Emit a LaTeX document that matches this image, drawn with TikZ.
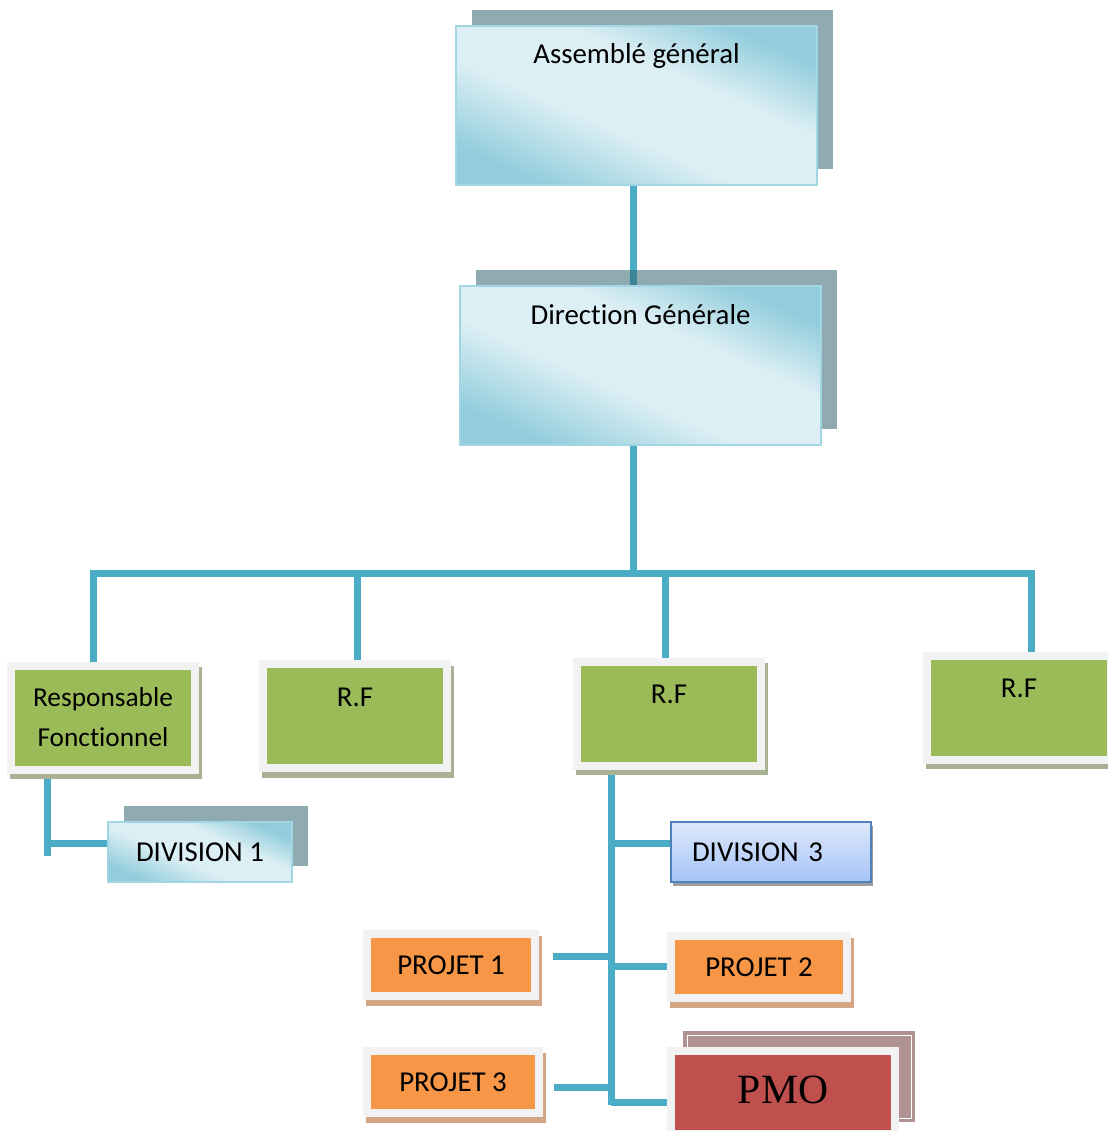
\documentclass[tikz,border=0pt]{standalone}
\usepackage{fontspec}
\setmainfont{Carlito}[Ligatures=NoCommon]
\newfontfamily\pmofont{Liberation Serif}
\usetikzlibrary{shadows,backgrounds}

\definecolor{linkblue}{HTML}{4BACC6}
\definecolor{aquadark}{HTML}{93CDDD}
\definecolor{aqualight}{HTML}{DCEFF4}
\definecolor{aqualine}{HTML}{A3D6E3}
\definecolor{aquashadow}{HTML}{336471}
\definecolor{framegray}{HTML}{F2F2F2}
\definecolor{rfgreen}{HTML}{9BBB59}
\definecolor{gshadow}{HTML}{A8B194}
\definecolor{porange}{HTML}{F79646}
\definecolor{oshadow}{HTML}{D4A685}
\definecolor{pmored}{HTML}{C0504D}
\definecolor{pmoshadow}{HTML}{B09292}
\definecolor{divtop}{HTML}{DDE8FB}
\definecolor{divbottom}{HTML}{A6C4F6}
\definecolor{divline}{HTML}{4F81BD}
\definecolor{divshadow}{HTML}{9C9C9C}

\pgfdeclareverticalshading{aquaglass}{100bp}{color(0bp)=(aquadark); color(25bp)=(aquadark); color(43bp)=(aqualight); color(60bp)=(aqualight); color(75bp)=(aquadark); color(100bp)=(aquadark)}

\begin{document}
\begin{tikzpicture}[x=0.6pt,y=-0.6pt,font=\fontsize{17.3}{24}\selectfont]
    \tikzset{link/.style={draw=linkblue,line width=4.2pt},
        aquabox/.style={draw=aqualine,line width=1.2pt,shading=aquaglass,shading angle=-24,inner sep=0pt,
            general shadow={fill=aquashadow,fill opacity=0.55,shadow xshift=9.6pt,shadow yshift=9.6pt}},
        topbox/.style={aquabox,minimum width=216.6pt,text height=22.8pt,text depth=72.6pt},
        greenbox/.style={draw=framegray,line width=4.8pt,fill=rfgreen,inner sep=0pt,
            minimum width=110.4pt,minimum height=62.4pt,
            general shadow={fill=gshadow,draw=gshadow,line width=4.8pt,shadow xshift=1.8pt,shadow yshift=-3.3pt}},
        rfbox/.style={greenbox,text height=25.2pt,text depth=37.2pt},
        projbox/.style={draw=framegray,line width=4.8pt,fill=porange,inner sep=0pt,minimum height=37.2pt,
            general shadow={fill=oshadow,draw=oshadow,line width=4.8pt,shadow xshift=1.8pt,shadow yshift=-3.6pt}}
    }
    \useasboundingbox (0,0) rectangle (1108,1131);

    \node [topbox] (ag) at (636.5,105.5) {Assemblé général};
    \node [topbox] (dg) at (640.5,365.5) {Direction Générale};

    \node [greenbox,align=center,font=\fontsize{16.4}{24}\selectfont] (resp) at (103,717.5) {Responsable\\Fonctionnel};
    \node [rfbox] (rf2) at (355,716) {R.F};
    \node [rfbox] (rf3) at (669,713.5) {R.F};
    \node [rfbox] (rf4) at (1019,707.5) {R.F};

    \node [aquabox,minimum width=110.4pt,minimum height=36pt] (div1) at (200,852) {DIVISION 1};
    \node [draw=divline,line width=1.2pt,top color=divtop,bottom color=divbottom,
        inner xsep=12.6pt,inner ysep=0pt,text width=94.8pt,minimum height=36pt,align=left,
        general shadow={fill=divshadow,shadow xshift=0.9pt,shadow yshift=-2.4pt}] (div3) at (771,852) {DIVISION 3};

    \node [projbox,minimum width=100.8pt] (p1) at (451,965) {PROJET 1};
    \node [projbox,minimum width=105.6pt] (p2) at (759,967) {PROJET 2};
    \node [projbox,minimum width=103.2pt] (p3) at (453,1082) {PROJET 3};
    \node [draw=framegray,line width=4.8pt,fill=pmored,inner sep=0pt,minimum width=134.4pt,
        text height=31.2pt,text depth=18.6pt,font=\pmofont\fontsize{25}{30}\selectfont,
        general shadow={fill=pmoshadow,draw=pmoshadow,double=white,double distance=0.6pt,
            line width=2.1pt,shadow xshift=9.6pt,shadow yshift=9.6pt}] (pmo) at (783,1092.5) {PMO};

    \coordinate (trunk) at (633,573);
    \coordinate (barL) at (93,573);
    \coordinate (barR) at (1031,573);
    \coordinate (d2) at (357,573);
    \coordinate (d3) at (665,573);
    \coordinate (s0) at (47,843);
    \coordinate (s0end) at (47,856);
    \coordinate (s1) at (611,843);
    \coordinate (s2) at (611,956);
    \coordinate (s3) at (611,966);
    \coordinate (s4) at (611,1087);
    \coordinate (s5) at (611,1102);
    \coordinate (stemend) at (611,1105);
    \coordinate (p1end) at (553,956);
    \coordinate (p3end) at (554,1087);

    \begin{scope}[on background layer]
    \draw [link] (ag.south -| trunk) -- (dg.north -| trunk)
          (dg.south -| trunk) -- (trunk)
          (resp.north -| barL) -- (barL) -- (barR) -- (rf4.north -| barR)
          (rf2.north -| d2) -- (d2)
          (rf3.north -| d3) -- (d3)
          (resp.south -| s0end) -- (s0end)
          (s0) -- (s0 -| div1.west)
          (rf3.south -| stemend) -- (stemend)
          (s1) -- (s1 -| div3.west)
          (s2) -- (p1end)
          (s3) -- (s3 -| p2.west)
          (s4) -- (p3end)
          (s5) -- (s5 -| pmo.west);
    \end{scope}
\end{tikzpicture}
\end{document}
